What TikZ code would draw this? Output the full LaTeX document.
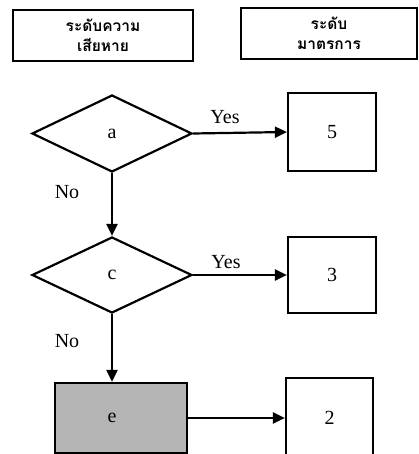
\documentclass[tikz,border=0pt]{standalone}
\usepackage{fontspec}
\setmainfont{Liberation Serif}
\newfontfamily\thaifont[Script=Thai]{Loma}
\usetikzlibrary{shapes.geometric,arrows.meta}
\begin{document}
\begin{tikzpicture}[x=1pt,y=-1pt,
  every node/.style={font=\fontsize{20}{22}\selectfont},
  hdr/.style={draw,line width=2.4pt,minimum width=180pt,minimum height=51pt,inner sep=0pt,align=center,font=\thaifont\fontsize{15.5}{20}\selectfont\bfseries},
  dec/.style={draw,line width=2.2pt,diamond,aspect=2.08,minimum width=160pt,minimum height=77pt,inner sep=0pt},
  outbox/.style={draw,line width=2.2pt,minimum width=88pt,minimum height=78pt,inner sep=0pt},
  conn/.style={line width=2.2pt,-{Triangle[length=12pt,width=11pt]}},
  lbl/.style={inner sep=0pt}]
\useasboundingbox (0,0) rectangle (418,454);
\node[hdr] (h1) at (103,35.5) {ระดับความ\\เสียหาย};
\node[hdr,minimum width=176pt] (h2) at (329,33.5) {ระดับ\\มาตรการ};
\node[dec] (a) at (112,133.5) {a};
\node[dec,minimum height=76pt] (c) at (112,275) {c};
\node[draw,line width=2.2pt,fill=gray!58,minimum width=132pt,minimum height=70pt,inner sep=0pt,
  label={[xshift=-9pt,inner sep=0pt]center:e}] (e) at (121,418) {};
\node[outbox] (n5) at (332,132) {5};
\node[outbox,minimum height=76pt] (n3) at (332,275) {3};
\node[outbox,minimum width=87pt,minimum height=80pt] (n2) at (329.5,418) {2};
\draw[conn] (a.east) -- (n5.west);
\draw[conn] (c.east) -- (n3.west);
\draw[conn] (a.south) -- (c.north);
\draw[conn] (c.south) -- (c.south |- e.north);
\draw[conn] (e.east) -- (n2.west |- e.east);
\node[lbl] (y1) at (225,117) {Yes};
\node[lbl] (y2) at (226,262) {Yes};
\node[lbl] (no1) at (67,192) {No};
\node[lbl] (no2) at (67,341) {No};
\end{tikzpicture}
\end{document}
